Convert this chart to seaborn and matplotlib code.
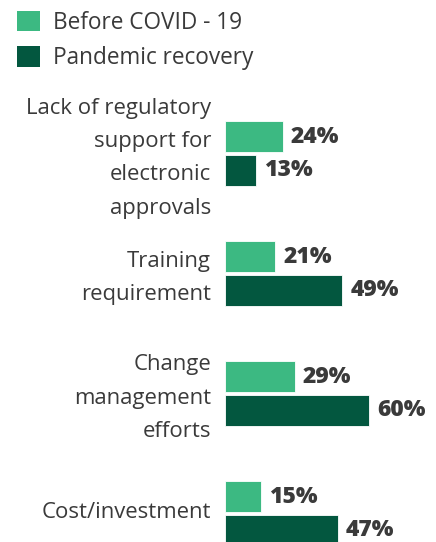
import matplotlib
matplotlib.use("Agg")
import matplotlib.pyplot as plt
import matplotlib.transforms as mtransforms
import seaborn as sns
import pandas as pd
from matplotlib.patches import Patch

categories = ["Lack of regulatory\nsupport for\nelectronic\napprovals",
              "Training\nrequirement",
              "Change\nmanagement\nefforts",
              "Cost/investment"]
series = ["Before COVID - 19", "Pandemic recovery"]
before = [24, 21, 29, 15]
recovery = [13, 49, 60, 47]
colors = ["#3cb982", "#03573f"]

df = pd.DataFrame({
    "category": categories * 2,
    "series": [series[0]] * 4 + [series[1]] * 4,
    "value": before + recovery,
})

sns.set_theme(style="white")
plt.rcParams["font.family"] = ["Open Sans", "DejaVu Sans"]

W, H = 436, 542
fig = plt.figure(figsize=(W / 100, H / 100), dpi=100)
ax_left = 225 / W
ax_top_px = 93.5
ax = fig.add_axes([ax_left, 0, 1 - ax_left, (H - ax_top_px) / H])

sns.barplot(data=df, y="category", x="value", hue="series", order=categories,
            hue_order=series, palette=colors, saturation=1, orient="h",
            width=0.56, gap=0.06, edgecolor="white", linewidth=0.6, ax=ax,
            legend=False)

ax.set_xlim(0, 88)
ax.set_ylim(-0.5 + 448.5 / 120, -0.5)
ax.set_xlabel("")
ax.set_ylabel("")
ax.set_xticks([])
for s in ax.spines.values():
    s.set_visible(False)
ax.tick_params(axis="y", length=0, pad=10)
shift_up = mtransforms.ScaledTranslation(0, 4 / 100, fig.dpi_scale_trans)
for tick in ax.yaxis.get_major_ticks():
    lab = tick.label1
    lab.set_fontsize(15.9)
    lab.set_color("#3a3a3a")
    lab.set_linespacing(1.78)
    lab.set_horizontalalignment("right")
    lab.set_transform(lab.get_transform() + shift_up)

for cont in ax.containers:
    ax.bar_label(cont, labels=[f"{v:.0f}%" for v in cont.datavalues], padding=5.8,
                 fontsize=16.5, fontweight="extra bold", color="#3a3a3a")

handles = [Patch(facecolor=c, edgecolor="none") for c in colors]
fig.legend(handles, series, loc="upper left", bbox_to_anchor=(17 / W, 1 - 11 / H),
           frameon=False, fontsize=16.3, handlelength=1.0, handleheight=1.0,
           handletextpad=0.58, labelspacing=0.5, borderpad=0, borderaxespad=0,
           labelcolor="#3a3a3a")

fig.savefig("out.png", dpi=100)
